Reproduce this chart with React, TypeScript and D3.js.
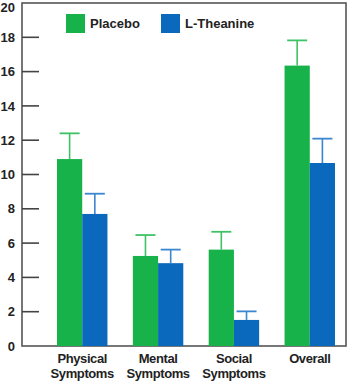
import * as d3 from "d3";

const categories = ["Physical Symptoms", "Mental Symptoms", "Social Symptoms", "Overall"];
const seriesNames = ["Placebo", "L-Theanine"];
const placebo = [10.9, 5.25, 5.62, 16.35];
const placeboErr = [12.4, 6.47, 6.66, 17.82];
const theanine = [7.7, 4.83, 1.52, 10.67];
const theanineErr = [8.88, 5.62, 2.02, 12.09];
const yTicks = [0, 2, 4, 6, 8, 10, 12, 14, 16, 18, 20];

const width = 350;
const height = 381;
const left = 22;
const right = 346;
const top = 3;
const bottom = 346;

const colors = ["#17b24a", "#0b69bd"];
const errColors = ["#3fc266", "#3b86cf"];
const font = "'Liberation Sans', Arial, sans-serif";

const App = () => {
    const y = d3.scaleLinear().domain([0, 20]).range([bottom, top]);
    const x = d3.scaleBand().domain(categories).range([57, 335]).paddingInner(0.335).paddingOuter(0);
    const bw = x.bandwidth() / 2;
    const series = [
        { vals: placebo, errs: placeboErr },
        { vals: theanine, errs: theanineErr },
    ];

    return (
        <svg width={width} height={height} style={{ position: "absolute", left: 0, top: 0, background: "#fff" }}>
            {/* frame */}
            <rect x={left} y={top} width={right - left} height={bottom - top} fill="none" stroke="#555" strokeWidth={1.6} />

            {yTicks.map((t) => (
                <g key={t}>
                    {t > 0 && t < 20 && (
                        <line x1={left} x2={39} y1={y(t)} y2={y(t)} stroke="#444" strokeWidth={1.6} />
                    )}
                    <text x={15} y={Math.max(y(t), 7)} dy="0.36em" textAnchor="end" fontFamily={font} fontWeight="bold" fontSize={13} fill="#222">
                        {t}
                    </text>
                </g>
            ))}

            {series.map((s, si) =>
                categories.map((c, i) => {
                    const x0 = (x(c) as number) + si * bw;
                    const cx = x0 + bw / 2;
                    return (
                        <g key={c + si}>
                            <line x1={cx} x2={cx} y1={y(s.vals[i])} y2={y(s.errs[i])} stroke={errColors[si]} strokeWidth={1.6} />
                            <line x1={cx - 10} x2={cx + 10} y1={y(s.errs[i])} y2={y(s.errs[i])} stroke={errColors[si]} strokeWidth={1.8} />
                            <rect x={x0} y={y(s.vals[i])} width={bw} height={bottom - y(s.vals[i])} fill={colors[si]} />
                        </g>
                    );
                })
            )}

            {/* legend */}
            {seriesNames.map((n, i) => {
                const lx = i === 0 ? 66 : 161;
                return (
                    <g key={n}>
                        <rect x={lx} y={14} width={19} height={19} fill={colors[i]} />
                        <text x={lx + 24} y={28} fontFamily={font} fontWeight="bold" fontSize={13} fill="#222">
                            {n}
                        </text>
                    </g>
                );
            })}

            {categories.map((c) => {
                const cx = (x(c) as number) + x.bandwidth() / 2;
                const words = c.split(" ");
                return (
                    <text key={c} x={cx} y={363} textAnchor="middle" fontFamily={font} fontWeight="bold" fontSize={13} letterSpacing={-0.4} fill="#222">
                        {words.map((w, k) => (
                            <tspan key={w} x={cx} dy={k === 0 ? 0 : 14.5}>
                                {w}
                            </tspan>
                        ))}
                    </text>
                );
            })}
        </svg>
    );
};

export default App;
